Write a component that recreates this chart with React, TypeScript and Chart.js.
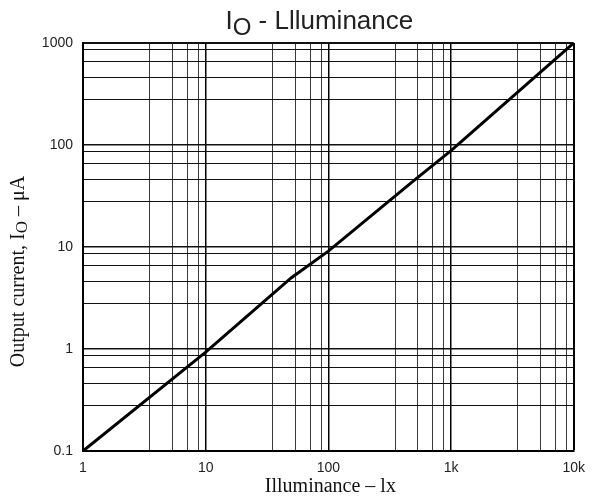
import React, { useEffect, useRef } from 'react';
import { Chart, registerables } from 'chart.js';

Chart.register(...registerables);

// ---- data ----
const illuminance = [1, 10, 50, 100, 500, 1000, 10000];
const outputCurrent = [0.1, 0.93, 5, 9.1, 45, 88, 1000];

const xDecades = [1, 10, 100, 1000, 10000];
const xTickLabels = ['1', '10', '100', '1k', '10k'];
const xMinorSteps = [3.5, 5.35, 7.1, 8.75];

const yDecades = [0.1, 1, 10, 100, 1000];
const yTickLabels = ['0.1', '1', '10', '100', '1000'];
const yMinorSteps = [2.8, 4.6, 6.6, 8.6];

const titleParts = ['I', 'O', ' - Llluminance'];
const yTitleParts = ['Output current, I', 'O', ' – μA'];
const xTitle = 'Illuminance – lx';

function buildTicks(decades: number[], steps: number[]) {
  const t: { value: number; major?: boolean }[] = [];
  decades.forEach((d, i) => {
    t.push({ value: d, major: true });
    if (i < decades.length - 1) steps.forEach((s) => t.push({ value: d * s }));
  });
  return t;
}

function labelFor(value: number, decades: number[], labels: string[]) {
  for (let i = 0; i < decades.length; i++) {
    if (Math.abs(value - decades[i]) / decades[i] < 1e-9) return labels[i];
  }
  return '';
}

function isDecade(value: number, decades: number[]) {
  return decades.some((d) => Math.abs(value - d) / d < 1e-9);
}

const textPlugin = {
  id: 'textPlugin',
  afterDraw(chart: any) {
    const ctx = chart.ctx as CanvasRenderingContext2D;
    const area = chart.chartArea;
    ctx.save();
    ctx.fillStyle = '#222';
    ctx.textBaseline = 'alphabetic';
    ctx.textAlign = 'left';

    // Title with subscript
    const mainFont = '26px "Liberation Sans", Arial, sans-serif';
    const subFont = '24px "Liberation Sans", Arial, sans-serif';
    ctx.font = mainFont;
    const w0 = ctx.measureText(titleParts[0]).width;
    const w2 = ctx.measureText(titleParts[2]).width;
    ctx.font = subFont;
    const w1 = ctx.measureText(titleParts[1]).width;
    const total = w0 + w1 + w2;
    const cx = (area.left + area.right) / 2 - 9;
    let x = cx - total / 2;
    const base = 28.5;
    ctx.font = mainFont;
    ctx.fillText(titleParts[0], x, base);
    x += w0;
    ctx.font = subFont;
    ctx.fillText(titleParts[1], x, base + 6);
    x += w1;
    ctx.font = mainFont;
    ctx.fillText(titleParts[2], x, base);

    // X axis title
    ctx.fillStyle = '#111';
    ctx.font = '20px "Liberation Serif", "Times New Roman", serif';
    ctx.textAlign = 'center';
    ctx.fillText(xTitle, (area.left + area.right) / 2 + 2, 492);

    // Y axis title (rotated)
    ctx.textAlign = 'left';
    const yMain = '20px "Liberation Serif", "Times New Roman", serif';
    const ySub = '17px "Liberation Serif", "Times New Roman", serif';
    ctx.font = yMain;
    const a0 = ctx.measureText(yTitleParts[0]).width;
    const a2 = ctx.measureText(yTitleParts[2]).width;
    ctx.font = ySub;
    const a1 = ctx.measureText(yTitleParts[1]).width;
    const ytot = a0 + a1 + a2;
    const cy = 271.5;
    ctx.translate(23.5, cy + ytot / 2);
    ctx.rotate(-Math.PI / 2);
    let p = 0;
    ctx.font = yMain;
    ctx.fillText(yTitleParts[0], p, 0);
    p += a0;
    ctx.font = ySub;
    ctx.fillText(yTitleParts[1], p, 3);
    p += a1;
    ctx.font = yMain;
    ctx.fillText(yTitleParts[2], p, 0);
    ctx.restore();
  },
};

export default function App() {
  const ref = useRef<HTMLCanvasElement | null>(null);

  useEffect(() => {
    document.body.style.margin = '0';
    const canvas = ref.current;
    if (!canvas) return;
    const tickFont = { family: '"Liberation Sans", Arial, sans-serif', size: 14 };
    const chart = new Chart(canvas, {
      type: 'line',
      data: {
        datasets: [
          {
            data: illuminance.map((v, i) => ({ x: v, y: outputCurrent[i] })),
            borderColor: '#000',
            borderWidth: 3,
            pointRadius: 0,
            tension: 0,
            fill: false,
          },
        ],
      },
      plugins: [textPlugin],
      options: {
        animation: false,
        responsive: false,
        maintainAspectRatio: false,
        layout: { padding: { top: 43, right: 20, left: 0, bottom: 0 } },
        plugins: {
          legend: { display: false },
          title: { display: false },
          tooltip: { enabled: false },
        },
        scales: {
          x: {
            type: 'logarithmic',
            min: 1,
            max: 10000,
            afterBuildTicks: (scale: any) => {
              scale.ticks = buildTicks(xDecades, xMinorSteps);
            },
            afterFit: (scale: any) => {
              scale.height = 52;
            },
            ticks: {
              autoSkip: false,
              maxRotation: 0,
              padding: 9,
              color: '#222',
              font: tickFont,
              callback: (value: any) => labelFor(Number(value), xDecades, xTickLabels),
            },
            grid: {
              drawTicks: false,
              color: (c: any) => (c.tick && isDecade(c.tick.value, xDecades) ? '#000' : '#3a3a3a'),
              lineWidth: (c: any) => {
                const v = c.tick ? c.tick.value : 0;
                if (v === 10000) return 2;
                return isDecade(v, xDecades) ? 1.5 : 1;
              },
            },
            border: { display: true, color: '#000', width: 2 },
          },
          y: {
            type: 'logarithmic',
            min: 0.1,
            max: 1000,
            afterBuildTicks: (scale: any) => {
              scale.ticks = buildTicks(yDecades, yMinorSteps);
            },
            afterFit: (scale: any) => {
              scale.width = 83;
            },
            ticks: {
              autoSkip: false,
              padding: 10,
              color: '#222',
              font: tickFont,
              callback: (value: any) => labelFor(Number(value), yDecades, yTickLabels),
            },
            grid: {
              drawTicks: false,
              color: '#111',
              lineWidth: (c: any) => {
                const v = c.tick ? c.tick.value : 0;
                if (v === 1000) return 2;
                return isDecade(v, yDecades) ? 1.5 : 1;
              },
            },
            border: { display: true, color: '#000', width: 2 },
          },
        },
      } as any,
    });
    return () => chart.destroy();
  }, []);

  return (
    <div style={{ width: 594, height: 503 }}>
      <canvas ref={ref} width={594} height={503} style={{ display: 'block' }} />
    </div>
  );
}
